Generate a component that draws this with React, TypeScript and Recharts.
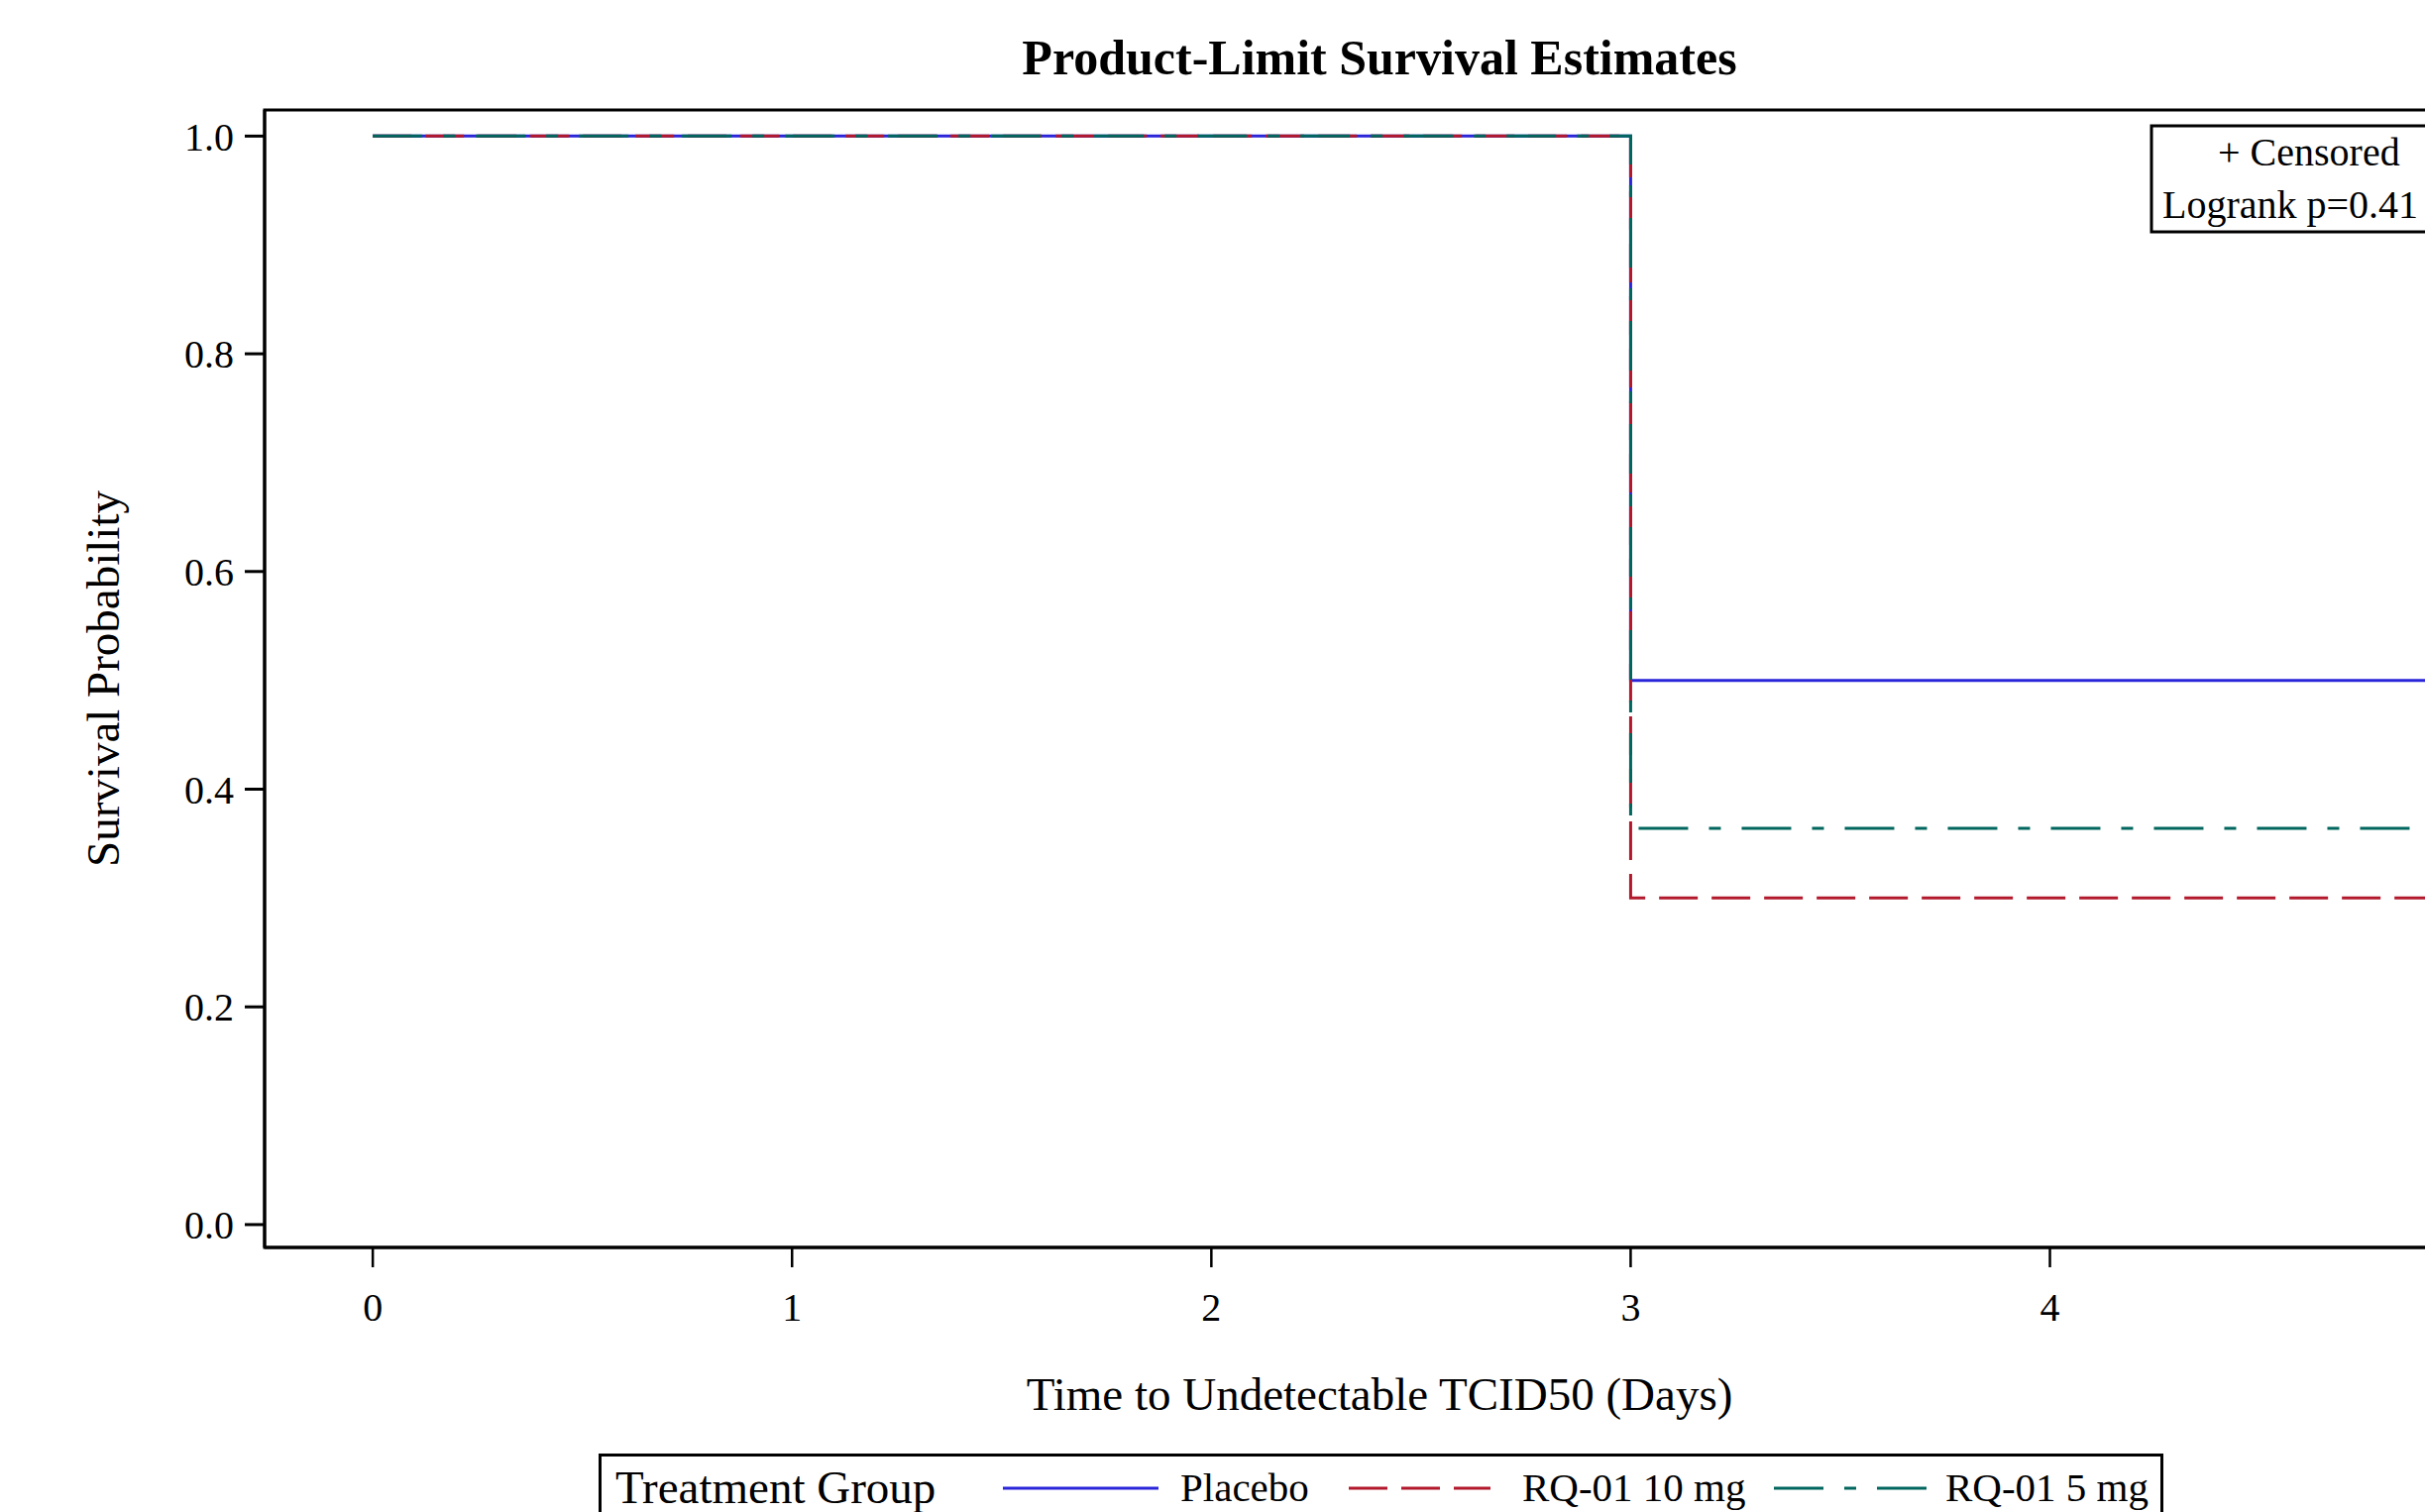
import { Label, Legend, Line, LineChart, ReferenceArea, XAxis, YAxis } from "recharts"

// Kaplan-Meier step estimates by treatment group
const TIMES = [0, 3, 5]
const PLACEBO = [1, 0.5, 0.5]
const RQ01_10MG = [1, 0.3, 0.3]
const RQ01_5MG = [1, 0.364, 0.364]

const X_TICKS = [0, 1, 2, 3, 4]
const Y_TICKS = [0, 0.2, 0.4, 0.6, 0.8, 1.0]
const X_DOMAIN: [number, number] = [-0.258, 5.06]
const Y_DOMAIN: [number, number] = [-0.021, 1.024]

const TITLE = "Product-Limit Survival Estimates"
const X_LABEL = "Time to Undetectable TCID50 (Days)"
const Y_LABEL = "Survival Probability"
const LEGEND_TITLE = "Treatment Group"
const INSET_LINES = ["+ Censored", "Logrank p=0.41"]

const FONT = "'Liberation Serif', 'Times New Roman', serif"

const SERIES = [
    { key: "placebo", name: "Placebo", color: "#2A25D9", dash: undefined as string | undefined },
    { key: "rq10", name: "RQ-01 10 mg", color: "#B2182B", dash: "39 14" },
    { key: "rq5", name: "RQ-01 5 mg", color: "#01665E", dash: "50 21 12 21" },
]

const data = TIMES.map((t, i) => ({
    time: t,
    placebo: PLACEBO[i],
    rq10: RQ01_10MG[i],
    rq5: RQ01_5MG[i],
}))

// legend layout, relative to the legend box
const SWATCHES = [
    { x1: 408, x2: 565, textX: 587 },
    { x1: 757, x2: 900, textX: 932 },
    { x1: 1186, x2: 1340, textX: 1359 },
]

const LegendBox = () => (
    <svg width={1579} height={100} style={{ display: "block" }}>
        <rect x={1.5} y={1.5} width={1576} height={120} fill="none" stroke="#000" strokeWidth={3} />
        <text x={17} y={50} fontSize={47} fontFamily={FONT} fill="#000">
            {LEGEND_TITLE}
        </text>
        {SERIES.map((s, i) => (
            <g key={s.key}>
                <line
                    x1={SWATCHES[i].x1}
                    x2={SWATCHES[i].x2}
                    y1={35}
                    y2={35}
                    stroke={s.color}
                    strokeWidth={3}
                    strokeDasharray={s.dash}
                />
                <text x={SWATCHES[i].textX} y={48} fontSize={41} fontFamily={FONT} fill="#000">
                    {s.name}
                </text>
            </g>
        ))}
    </svg>
)

const YTitle = ({ viewBox }: any) => {
    const cy = viewBox.y + viewBox.height / 2
    return (
        <text
            x={104}
            y={cy}
            transform={`rotate(-90, 104, ${cy})`}
            textAnchor="middle"
            dominantBaseline="central"
            fontSize={47}
            fontFamily={FONT}
            fill="#000"
        >
            {Y_LABEL}
        </text>
    )
}

const XTitle = ({ viewBox }: any) => (
    <text
        x={viewBox.x + viewBox.width / 2}
        y={1423}
        textAnchor="middle"
        fontSize={47}
        fontFamily={FONT}
        fill="#000"
    >
        {X_LABEL}
    </text>
)

const App = () => {
    const tickStyle = { fill: "#000", fontSize: 40, fontFamily: FONT }
    return (
        <div style={{ position: "relative", width: 2447, height: 1526, overflow: "hidden", background: "#fff" }}>
            <style>{"body{margin:0;overflow:hidden}"}</style>
            <LineChart
                width={2784}
                height={1526}
                data={data}
                margin={{ top: 111, right: 267, bottom: 117, left: 0 }}
            >
                <XAxis
                    dataKey="time"
                    type="number"
                    domain={X_DOMAIN}
                    allowDataOverflow
                    ticks={X_TICKS}
                    height={150}
                    tickSize={20}
                    tickMargin={26}
                    axisLine={{ stroke: "#000", strokeWidth: 3 }}
                    tickLine={{ stroke: "#000", strokeWidth: 2.5 }}
                    tick={tickStyle}
                >
                    <Label content={<XTitle />} />
                </XAxis>
                <YAxis
                    type="number"
                    domain={Y_DOMAIN}
                    allowDataOverflow
                    ticks={Y_TICKS}
                    width={267}
                    tickSize={20}
                    tickMargin={11}
                    tickFormatter={(v: number) => v.toFixed(1)}
                    axisLine={{ stroke: "#000", strokeWidth: 3 }}
                    tickLine={{ stroke: "#000", strokeWidth: 3 }}
                    tick={tickStyle}
                >
                    <Label content={<YTitle />} />
                </YAxis>
                <ReferenceArea
                    x1={X_DOMAIN[0]}
                    x2={X_DOMAIN[1]}
                    y1={Y_DOMAIN[0]}
                    y2={Y_DOMAIN[1]}
                    fill="none"
                    fillOpacity={0}
                    stroke="#000"
                    strokeWidth={3}
                    ifOverflow="visible"
                />
                {SERIES.map((s) => (
                    <Line
                        key={s.key}
                        dataKey={s.key}
                        name={s.name}
                        type="stepAfter"
                        stroke={s.color}
                        strokeWidth={3}
                        strokeDasharray={s.dash}
                        dot={false}
                        activeDot={false}
                        isAnimationActive={false}
                    />
                ))}
                <Legend
                    layout="horizontal"
                    verticalAlign="middle"
                    align="center"
                    content={<LegendBox />}
                    wrapperStyle={{ left: 604, top: 1467, width: 1579, height: 100 }}
                />
            </LineChart>
            <svg
                width={2447}
                height={1526}
                style={{ position: "absolute", left: 0, top: 0, pointerEvents: "none" }}
            >
                <text x={1392} y={75} textAnchor="middle" fontSize={50} fontWeight="bold" fontFamily={FONT} fill="#000">
                    {TITLE}
                </text>
                <rect x={2171} y={127} width={400} height={107} fill="#fff" stroke="#000" strokeWidth={3} />
                <text x={2238} y={167} fontSize={40} fontFamily={FONT} fill="#000">
                    {INSET_LINES[0]}
                </text>
                <text x={2182} y={220} fontSize={40} fontFamily={FONT} fill="#000">
                    {INSET_LINES[1]}
                </text>
            </svg>
        </div>
    )
}

export default App
